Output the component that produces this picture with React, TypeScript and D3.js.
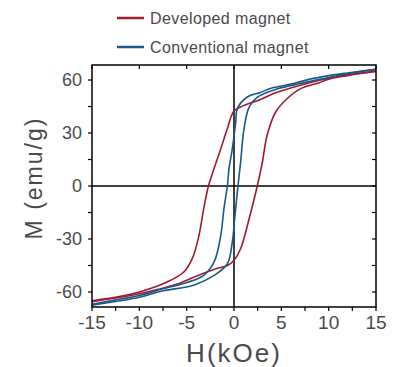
import React, { useEffect, useRef } from 'react';
import * as d3 from 'd3';

// hysteresis loops, H in kOe, M in emu/g
const devDownH = [15, 12, 10, 8, 6, 4, 2.8, 1, 0, -0.7, -1.4, -2.1, -2.7, -3.2, -3.7, -4.4, -5.3, -6.7, -8, -10, -12, -15];
const devDownM = [65, 63, 61, 58.5, 55.5, 52, 49, 45.5, 42.5, 32.5, 21, 10, 0, -12.8, -28, -41, -48.7, -53.4, -56.5, -60, -62.5, -65];
const devUpH = [-15, -12, -10, -8, -6, -4.2, -2, -0.7, 0, 0.7, 1.6, 2.46, 3.0, 3.5, 4.4, 5.6, 7, 9, 10, 12, 15];
const devUpM = [-65.5, -63, -61, -58.5, -55.5, -51.5, -47, -45, -42, -35.5, -18.5, 0, 13.6, 28.7, 41.9, 49.4, 55, 58.5, 60.5, 62.5, 64.8];

const convDownH = [15, 12, 10, 8, 6.3, 4, 2.8, 1.4, 0.35, 0.18, -0.18, -0.53, -0.7, -1.06, -1.4, -2.1, -3.2, -4.9, -7.7, -10, -12, -15];
const convDownM = [66, 64, 62.5, 60.5, 58, 55.5, 53, 50.4, 43.8, 36, 21, 9.8, 0, -12.8, -28, -43, -50.6, -54.5, -58.5, -62, -64, -67];
const convUpH = [-15, -12, -10, -7.7, -4.2, -2.1, -0.7, -0.18, 0.07, 0.42, 0.7, 1.06, 1.6, 2.5, 4.6, 7, 9.2, 12, 15];
const convUpM = [-67.5, -65, -63, -59.6, -56, -50.6, -44, -31.7, -18.5, 0, 13.6, 32.5, 44.7, 50.4, 55, 58, 60.5, 63.5, 66];

const seriesNames = ['Developed magnet', 'Conventional magnet'];
const seriesColors = ['#a31a30', '#1b5887'];

const xTicks = [-15, -10, -5, 0, 5, 10, 15];
const xMinor = [-12.5, -7.5, -2.5, 2.5, 7.5, 12.5];
const yTicks = [-60, -30, 0, 30, 60];
const yMinor = [-45, -15, 15, 45];

const W = 394;
const H = 367;

const App: React.FC = () => {
  const svgRef = useRef<SVGSVGElement>(null);

  useEffect(() => {
    if (!svgRef.current) return;
    const svg = d3.select(svgRef.current);
    svg.selectAll('*').remove();

    const left = 92, right = 376, top = 65, bottom = 307;
    const font = 'Liberation Sans, Arial, sans-serif';
    const textCol = '#4a4a4a';

    const x = d3.scaleLinear().domain([-15, 15]).range([left, right]);
    const y = d3.scaleLinear().domain([-68.5, 68.5]).range([bottom, top]);

    // zero lines
    svg.append('line')
      .attr('x1', x(0)).attr('x2', x(0)).attr('y1', top).attr('y2', bottom)
      .attr('stroke', '#000').attr('stroke-width', 1.5);
    svg.append('line')
      .attr('x1', left).attr('x2', right).attr('y1', y(0)).attr('y2', y(0))
      .attr('stroke', '#000').attr('stroke-width', 1.5);

    // loops
    const line = d3.line<[number, number]>()
      .x(d => x(d[0]))
      .y(d => y(d[1]))
      .curve(d3.curveCatmullRom.alpha(0.5));

    const branches = [
      { h: devDownH, m: devDownM, c: 0 },
      { h: devUpH, m: devUpM, c: 0 },
      { h: convDownH, m: convDownM, c: 1 },
      { h: convUpH, m: convUpM, c: 1 },
    ];
    branches.forEach(b => {
      const pts = b.h.map((v, i) => [v, b.m[i]] as [number, number]);
      svg.append('path')
        .datum(pts)
        .attr('d', line)
        .attr('fill', 'none')
        .attr('stroke', seriesColors[b.c])
        .attr('stroke-width', 1.6);
    });

    // frame
    svg.append('rect')
      .attr('x', left).attr('y', top)
      .attr('width', right - left).attr('height', bottom - top)
      .attr('fill', 'none').attr('stroke', '#000').attr('stroke-width', 1.5);

    const tickLen = 4;
    const ticks = svg.append('g').attr('stroke', '#000').attr('stroke-width', 1.2);
    [...xTicks, ...xMinor].forEach(t => {
      ticks.append('line').attr('x1', x(t)).attr('x2', x(t)).attr('y1', bottom).attr('y2', bottom + tickLen);
    });
    xTicks.forEach(t => {
      ticks.append('line').attr('x1', x(t)).attr('x2', x(t)).attr('y1', top).attr('y2', top + tickLen);
    });
    [...yTicks, ...yMinor].forEach(t => {
      ticks.append('line').attr('x1', left - tickLen).attr('x2', left).attr('y1', y(t)).attr('y2', y(t));
      ticks.append('line').attr('x1', right - tickLen).attr('x2', right).attr('y1', y(t)).attr('y2', y(t));
    });

    // tick labels
    xTicks.forEach(t => {
      svg.append('text')
        .attr('x', x(t)).attr('y', 329)
        .attr('text-anchor', 'middle')
        .attr('font-family', font).attr('font-size', 19)
        .attr('fill', textCol)
        .text(t < 0 ? `-${Math.abs(t)}` : `${t}`);
    });
    yTicks.forEach(t => {
      svg.append('text')
        .attr('x', 82).attr('y', y(t))
        .attr('dy', '0.36em')
        .attr('text-anchor', 'end')
        .attr('font-family', font).attr('font-size', 18)
        .attr('fill', textCol)
        .text(t < 0 ? `-${Math.abs(t)}` : `${t}`);
    });

    // axis titles
    svg.append('text')
      .attr('x', x(0)).attr('y', 362)
      .attr('text-anchor', 'middle')
      .attr('font-family', font).attr('font-size', 26)
      .attr('letter-spacing', 2)
      .attr('fill', textCol)
      .text('H(kOe)');
    svg.append('text')
      .attr('transform', `translate(42,${(top + bottom) / 2 - 8}) rotate(-90)`)
      .attr('text-anchor', 'middle')
      .attr('font-family', font).attr('font-size', 23)
      .attr('letter-spacing', 2)
      .attr('fill', textCol)
      .text('M (emu/g)');

    // legend
    seriesNames.forEach((name, i) => {
      const ly = 18 + i * 29;
      svg.append('line')
        .attr('x1', 117).attr('x2', 144).attr('y1', ly).attr('y2', ly)
        .attr('stroke', seriesColors[i]).attr('stroke-width', 2.5);
      svg.append('text')
        .attr('x', 150).attr('y', ly)
        .attr('dy', '0.36em')
        .attr('font-family', font).attr('font-size', 16)
        .attr('letter-spacing', 0.4)
        .attr('fill', textCol)
        .text(name);
    });
  }, []);

  return (
    <svg
      ref={svgRef}
      width={W}
      height={H}
      style={{ position: 'absolute', left: 0, top: 0, background: '#fff' }}
    />
  );
};

export default App;
